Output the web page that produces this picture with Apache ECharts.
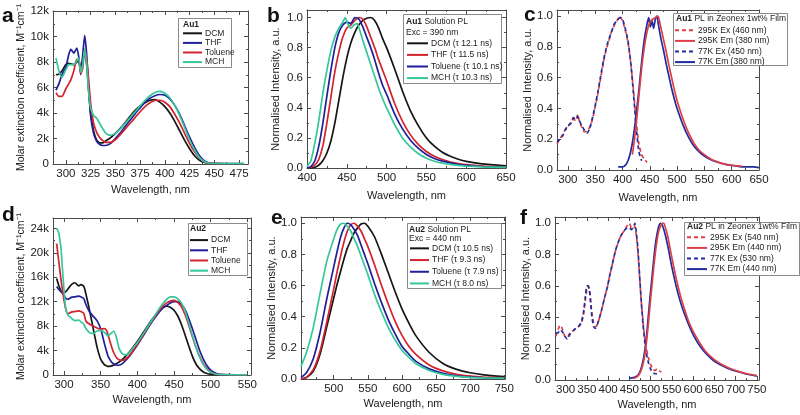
<!DOCTYPE html>
<html><head><meta charset="utf-8">
<script src="https://cdn.jsdelivr.net/npm/echarts@6/dist/echarts.min.js"></script>
<style>html,body{margin:0;padding:0;background:#fff}#c{width:800px;height:415px}</style>
</head><body><div id="c"></div>
<script>
// ---------------- DATA ----------------
// Panel a: Au1 absorption (M-1 cm-1)
const aWl = [290,293,296,300,303,305,308,311,313,315,317,319,321,323,325,328,331,334,337,340,345,350,355,360,365,370,375,380,385,390,395,400,405,410,415,420,425,430,435,440,445,450,460,470,480];
const aDCM = [7000,7050,7300,7800,7900,7850,7800,8000,8100,7500,8200,8700,7800,5800,4000,2600,1900,1650,1650,1800,2050,2400,2800,3250,3750,4200,4550,4800,5000,5050,4850,4500,4000,3350,2600,1850,1200,650,300,120,50,30,20,20,20];
const aTHF = [5800,6300,7000,7600,8600,9000,8700,9100,8400,7000,8500,10100,8600,6000,3800,2400,1800,1550,1450,1450,1600,2000,2450,2950,3450,3950,4400,4850,5150,5350,5450,5400,5100,4600,3900,3000,2100,1300,650,250,80,40,30,30,30];
const aTol = [5600,5300,5300,5900,6300,6600,7300,8200,8200,7100,7500,9000,8200,6600,4800,3200,2500,2100,1850,1700,1700,1900,2300,2750,3200,3650,4100,4500,4800,4980,5000,4850,4500,3900,3200,2400,1600,950,450,150,50,30,20,20,20];
const aMCH = [8300,7300,6800,7400,7800,7800,7800,8100,8300,7200,7800,9000,7800,5600,4400,3800,3600,3200,2800,2450,2250,2400,2750,3200,3650,4100,4550,5000,5350,5600,5700,5550,5200,4600,3800,2850,1900,1100,500,180,60,40,30,30,30];
const aXTicks = [300,325,350,375,400,425,450,475];
const aYTicks = [0,2000,4000,6000,8000,10000,12000];

// Panel b: Au1 solution PL
const bWl = [400,405,410,415,420,425,430,435,440,445,450,455,460,465,470,475,480,485,490,495,500,510,520,530,540,550,560,570,580,590,600,620,650];
const bDCM = [0,0,0.005,0.02,0.05,0.1,0.18,0.3,0.45,0.6,0.73,0.83,0.9,0.95,0.98,0.995,1.0,0.98,0.93,0.86,0.8,0.66,0.51,0.38,0.28,0.2,0.145,0.105,0.078,0.058,0.044,0.027,0.015];
const bTHF = [0,0.005,0.02,0.06,0.15,0.3,0.47,0.64,0.77,0.87,0.93,0.95,0.98,1.0,0.99,0.94,0.87,0.8,0.72,0.65,0.58,0.43,0.31,0.22,0.155,0.11,0.078,0.056,0.04,0.03,0.022,0.013,0.007];
const bTol = [0,0.01,0.05,0.15,0.3,0.48,0.65,0.8,0.9,0.95,0.97,0.96,1.0,0.99,0.94,0.87,0.8,0.72,0.63,0.55,0.49,0.36,0.26,0.185,0.13,0.09,0.063,0.046,0.034,0.025,0.018,0.01,0.005];
const bMchWl = [400,405,410,415,420,425,430,435,440,445,448,451,455,459,463,466,470,475,480,485,490,495,500,510,520,530,540,550,560,570,580,590,600,620,650];
const bMCH = [0.01,0.05,0.17,0.32,0.5,0.65,0.78,0.87,0.93,0.97,1.0,0.96,0.93,0.95,0.96,0.92,0.85,0.77,0.69,0.61,0.53,0.46,0.4,0.29,0.2,0.14,0.095,0.065,0.045,0.032,0.024,0.018,0.013,0.008,0.004];
const bXTicks = [400,450,500,550,600,650];
const nYTicks = [0,0.2,0.4,0.6,0.8,1.0];

// Panel c: Au1 film
const cExWl = [280,285,290,295,300,305,310,315,318,320,325,330,335,340,345,350,355,360,365,370,375,380,385,390,395,400,405,410,415,420,425,430,435,440,445];
const c295Ex = [0.17,0.2,0.23,0.26,0.28,0.31,0.33,0.32,0.36,0.33,0.28,0.25,0.25,0.28,0.33,0.41,0.5,0.6,0.7,0.78,0.84,0.9,0.94,0.97,1.0,0.97,0.91,0.83,0.7,0.52,0.32,0.17,0.1,0.07,0.05];
const c77Ex = [0.18,0.2,0.22,0.26,0.29,0.3,0.34,0.33,0.35,0.33,0.29,0.26,0.24,0.27,0.34,0.42,0.51,0.61,0.71,0.79,0.85,0.9,0.95,0.97,0.99,0.98,0.92,0.84,0.7,0.5,0.28,0.12,0.06,null,null];
const c77EmWl = [392,400,405,410,415,420,425,430,435,440,445,448,451,454,457,460,463,466,470,475,480,485,490,495,500,510,520,530,540,550,560,570,580,590,600,610,620,630,640,650];
const c77Em = [0.02,0.02,0.03,0.06,0.12,0.22,0.36,0.52,0.7,0.85,0.95,0.99,0.93,0.97,0.92,0.98,1.0,0.94,0.86,0.78,0.69,0.61,0.53,0.46,0.4,0.3,0.22,0.16,0.12,0.09,0.07,0.055,0.045,0.035,0.03,0.025,0.02,0.02,0.02,0.015];
const c295EmWl = [418,422,426,430,435,440,445,450,455,460,465,470,475,480,485,490,495,500,510,520,530,540,550,560,570,580,590,600,610,620];
const c295Em = [0.1,0.2,0.33,0.48,0.66,0.8,0.9,0.96,0.98,0.99,1.0,0.93,0.85,0.77,0.68,0.6,0.52,0.45,0.34,0.25,0.18,0.13,0.1,0.075,0.058,0.045,0.037,0.031,0.027,0.024];
const cXTicks = [300,350,400,450,500,550,600,650];

// Panel d: Au2 absorption
const dWl = [290,293,296,299,302,305,310,315,320,323,327,330,335,340,345,350,355,358,360,365,368,372,375,380,385,390,400,410,420,430,435,440,445,450,455,460,465,470,475,480,485,490,495,500,505,510,520,535,550];
const dDCM = [15800,14600,13700,13400,13600,14000,14800,15100,14600,14800,14500,13200,10500,7500,4600,2600,1700,1500,1400,1500,1650,1900,2100,2600,3200,3900,5500,7300,9100,10600,11100,11250,11100,10600,9700,8300,6600,4800,3100,1800,1000,500,250,120,70,50,40,30,30];
const dTHF = [14500,14000,13600,13300,12600,12400,12700,12800,12900,12800,12500,11500,10300,9600,8900,7600,5200,3900,3100,2100,1800,1600,1600,1900,2500,3200,4900,6800,8700,10300,11000,11400,11800,12000,12000,11600,10700,9300,7600,5800,4000,2600,1500,800,400,150,50,30,30];
const dTol = [21500,18500,15500,13000,11000,10000,10300,10400,10500,10400,10100,8800,8300,8000,7700,7500,7600,7300,6600,4600,3600,2800,2500,2400,2700,3300,5000,7000,8900,10600,11300,11800,12100,12200,11900,11200,9900,8200,6300,4500,3000,1800,1000,500,200,80,40,30,30];
const dMCH = [24000,23200,20500,15500,11200,9900,9300,8900,9000,8700,8300,7600,6900,6800,7200,7300,7000,6600,6400,6900,7200,5900,4400,3400,3300,3800,5300,7100,9000,10900,11700,12400,12800,12800,12500,11800,10500,8600,6500,4500,2900,1700,900,450,200,80,40,30,30];
const dXTicks = [300,350,400,450,500,550];
const dYTicks = [0,4000,8000,12000,16000,20000,24000];

// Panel e: Au2 solution PL
const eWl = [452,460,470,480,490,500,505,510,515,520,525,530,535,540,545,550,560,570,580,590,600,610,620,640,660,680,700,720,750];
const eDCM = [0,0.01,0.05,0.16,0.34,0.52,0.61,0.69,0.77,0.84,0.89,0.94,0.97,0.995,1.0,0.98,0.91,0.8,0.68,0.56,0.45,0.36,0.28,0.17,0.1,0.062,0.04,0.027,0.016];
const eTHF = [0,0.01,0.06,0.18,0.37,0.58,0.69,0.79,0.88,0.95,0.99,1.0,0.98,0.95,0.9,0.85,0.73,0.6,0.48,0.37,0.28,0.21,0.16,0.09,0.052,0.03,0.018,0.012,0.008];
const eTol = [0.01,0.04,0.13,0.3,0.52,0.72,0.82,0.91,0.97,1.0,0.99,0.96,0.92,0.86,0.8,0.74,0.61,0.49,0.38,0.29,0.21,0.16,0.115,0.065,0.036,0.02,0.012,0.008,0.005];
const eMCH = [0.08,0.17,0.33,0.55,0.76,0.9,0.96,0.995,1.0,0.98,0.95,0.9,0.85,0.79,0.73,0.67,0.54,0.43,0.33,0.25,0.185,0.14,0.1,0.055,0.03,0.017,0.01,0.007,0.005];
const eXTicks = [500,550,600,650,700,750];

// Panel f: Au2 film
const fExWl = [277,282,287,292,298,304,310,320,330,337,342,346,350,353,356,359,362,366,370,374,380,386,392,398,404,410,415,420,430,440,446,450,455,460,463,466,470,474,478,482,486,490,495,500,505,510,515,520,525];
const f295Ex = [0.28,0.32,0.35,0.33,0.28,0.27,0.3,0.32,0.34,0.36,0.42,0.5,0.58,0.6,0.58,0.5,0.42,0.36,0.34,0.35,0.4,0.46,0.53,0.59,0.67,0.74,0.8,0.85,0.92,0.96,0.99,1.0,0.97,0.97,0.98,0.93,0.82,0.66,0.5,0.38,0.27,0.2,0.14,0.1,0.07,0.06,0.07,0.06,0.05];
const f77Ex = [0.3,0.3,0.32,0.31,0.28,0.26,0.29,0.32,0.34,0.37,0.43,0.52,0.6,0.6,0.57,0.49,0.4,0.34,0.33,0.35,0.4,0.46,0.53,0.59,0.67,0.74,0.8,0.85,0.92,0.96,0.97,0.97,0.96,0.98,1.0,0.95,0.84,0.67,0.5,0.36,0.25,0.17,0.11,0.07,0.05,0.04,0.04,null,null];
const fEmWl = [450,460,470,476,482,487,491,495,499,503,507,511,515,519,523,527,531,535,540,545,550,560,570,580,590,600,615,630,650,670,690,710,730,750];
const f77Em = [0.01,0.015,0.03,0.06,0.12,0.2,0.3,0.42,0.54,0.65,0.76,0.86,0.93,0.98,1.0,0.99,0.96,0.92,0.86,0.79,0.72,0.6,0.5,0.42,0.35,0.29,0.22,0.17,0.12,0.09,0.065,0.05,0.035,0.025];
const f295Em = [null,0.01,0.025,0.05,0.1,0.17,0.26,0.37,0.49,0.6,0.71,0.81,0.89,0.95,0.98,1.0,1.0,0.97,0.92,0.85,0.78,0.65,0.54,0.45,0.37,0.31,0.24,0.18,0.13,0.095,0.07,0.052,0.038,0.028];
const fXTicks = [300,350,400,450,500,550,600,650,700,750];

// ---------------- STYLE ----------------
const FONT = '"Liberation Sans", Arial, Helvetica, sans-serif';
const TXT = '#222';
const AX = '#4a4a4a';
const C_BLK = '#151515', C_BLU = '#1f1f9a', C_RED = '#d2232e', C_TEAL = '#35c79b';
const F_RED = '#dc3f48', F_BLU = '#202c9c';
const LFS = 8.5;

const pairs = (xs, ys) => xs.map((x, i) => [x, ys[i]]);
const mids = (t) => { const r = []; const s = t[1] - t[0]; for (let i = 0; i < t.length; i++) r.push(+(t[i] - s / 2).toFixed(4)); r.push(+(t[t.length-1] + s / 2).toFixed(4)); return r; };
const kFmt = v => v === 0 ? '0' : (v / 1000) + 'k';
const nFmt = v => v.toFixed(1);

const grids = [
  {left: 53, top: 11, width: 195, height: 153},
  {left: 307, top: 10, width: 199, height: 158},
  {left: 557, top: 10, width: 202, height: 160},
  {left: 53, top: 218, width: 198, height: 157},
  {left: 301, top: 217, width: 204, height: 162},
  {left: 555, top: 217, width: 204, height: 163}
];

const MOLAR = 'Molar extinction coefficient, M\u207B\u00B9cm\u207B\u00B9';
const NORM = 'Normalised Intensity, a.u.';
const panels = [
  {x:[287,484], xt:aXTicks, y:[0,12000], yt:aYTicks, fmt:kFmt, yName:MOLAR, yGap:21, xGap:20, yFs:10.5},
  {x:[400,650], xt:bXTicks, y:[0,1.05], yt:nYTicks, fmt:nFmt, yName:NORM, yGap:26, xGap:22, yFs:11},
  {x:[280,650], xt:cXTicks, y:[0,1.04], yt:nYTicks, fmt:nFmt, yName:NORM, yGap:20, xGap:22, yFs:11},
  {x:[285,555], xt:dXTicks, y:[0,25700], yt:dYTicks, fmt:kFmt, yName:MOLAR, yGap:23, xGap:19, yFs:10.5},
  {x:[452,751], xt:eXTicks, y:[0,1.04], yt:nYTicks, fmt:nFmt, yName:NORM, yGap:20, xGap:19, yFs:11},
  {x:[275,755], xt:fXTicks, y:[0,1.04], yt:nYTicks, fmt:nFmt, yName:NORM, yGap:23, xGap:19, yFs:11}
];

const xAxes = [], yAxes = [];
function mk(gi, min, max, major, minor, pos, labels, fmt, name, gap, fs) {
  const common = {type:'value', gridIndex:gi, min, max, position:pos, splitLine:{show:false}, silent:true};
  const main = Object.assign({}, common, {
    axisLine:{show:true, onZero:false, lineStyle:{color:AX, width:1}},
    axisTick:{show:true, inside:true, length:4, customValues:major, lineStyle:{color:AX, width:1}},
    axisLabel:{show:labels, customValues:major, formatter:fmt, fontSize:11.5, fontFamily:FONT, color:TXT, margin:4}
  });
  if (labels && name) {
    main.name = name; main.nameLocation = 'middle'; main.nameGap = gap;
    main.nameTextStyle = {fontSize:fs || 11, fontFamily:FONT, color:TXT};
  }
  const mn = Object.assign({}, common, {
    axisLine:{show:false, onZero:false},
    axisTick:{show:true, inside:true, length:2, customValues:minor, lineStyle:{color:AX, width:1}},
    axisLabel:{show:false, customValues:minor}
  });
  return [main, mn];
}
panels.forEach((p, gi) => {
  const xm = mids(p.xt), ym = mids(p.yt);
  xAxes.push(...mk(gi, p.x[0], p.x[1], p.xt, xm, 'bottom', true, v => String(v), 'Wavelength, nm', p.xGap, 11));
  xAxes.push(...mk(gi, p.x[0], p.x[1], p.xt, xm, 'top', false));
  yAxes.push(...mk(gi, p.y[0], p.y[1], p.yt, ym, 'left', true, p.fmt, p.yName, p.yGap, p.yFs));
  yAxes.push(...mk(gi, p.y[0], p.y[1], p.yt, ym, 'right', false));
});

function ser(name, gi, xs, ys, color, dashed) {
  return {type:'line', name, xAxisIndex:gi*4, yAxisIndex:gi*4, data:pairs(xs, ys), symbol:'none',
    smooth:0.2, connectNulls:false, silent:true,
    lineStyle:{color, width:1.7, type: dashed ? [4,3] : 'solid'}, itemStyle:{color}, z:3};
}

const series = [
  ser('DCM', 0, aWl, aDCM, C_BLK), ser('THF', 0, aWl, aTHF, C_BLU), ser('Toluene', 0, aWl, aTol, C_RED), ser('MCH', 0, aWl, aMCH, C_TEAL),
  ser('DCM (\u03C4 12.1 ns)', 1, bWl, bDCM, C_BLK), ser('THF (\u03C4 11.5 ns)', 1, bWl, bTHF, C_RED), ser('Toluene (\u03C4 10.1 ns)', 1, bWl, bTol, C_BLU), ser('MCH (\u03C4 10.3 ns)', 1, bMchWl, bMCH, C_TEAL),
  ser('295K Ex (460 nm)', 2, cExWl, c295Ex, F_RED, true), ser('77K Ex (450 nm)', 2, cExWl, c77Ex, F_BLU, true),
  ser('77K Em (380 nm)', 2, c77EmWl, c77Em, F_BLU), ser('295K Em (380 nm)', 2, c295EmWl, c295Em, F_RED),
  ser('DCM', 3, dWl, dDCM, C_BLK), ser('THF', 3, dWl, dTHF, C_BLU), ser('Toluene', 3, dWl, dTol, C_RED), ser('MCH', 3, dWl, dMCH, C_TEAL),
  ser('DCM (\u03C4 10.5 ns)', 4, eWl, eDCM, C_BLK), ser('THF (\u03C4 9.3 ns)', 4, eWl, eTHF, C_RED), ser('Toluene (\u03C4 7.9 ns)', 4, eWl, eTol, C_BLU), ser('MCH (\u03C4 8.0 ns)', 4, eWl, eMCH, C_TEAL),
  ser('295K Ex (540 nm)', 5, fExWl, f295Ex, F_RED, true), ser('77K Ex (530 nm)', 5, fExWl, f77Ex, F_BLU, true),
  ser('77K Em (440 nm)', 5, fEmWl, f77Em, F_BLU), ser('295K Em (440 nm)', 5, fEmWl, f295Em, F_RED)
];

function leg(data, left, top, iw, lh) {
  return {data, left, top, orient:'vertical', itemWidth:iw, itemHeight:8, itemGap:0, padding:0,
    selectedMode:false, z:60,
    itemStyle:{opacity:0, borderWidth:0},
    lineStyle:{width:2},
    textStyle:{fontSize:LFS, fontFamily:FONT, color:TXT, lineHeight:lh, padding:[0,0,0,-2]}};
}
const legends = [
  leg(['DCM','THF','Toluene','MCH'], 182, 28.5, 19, 9.6),
  leg(['DCM (\u03C4 12.1 ns)','THF (\u03C4 11.5 ns)','Toluene (\u03C4 10.1 ns)','MCH (\u03C4 10.3 ns)'], 406, 37.5, 21, 11.6),
  leg(['295K Ex (460 nm)','295K Em (380 nm)','77K Ex (450 nm)','77K Em (380 nm)'], 674, 25, 20, 10.6),
  leg(['DCM','THF','Toluene','MCH'], 189, 235, 18, 10.2),
  leg(['DCM (\u03C4 10.5 ns)','THF (\u03C4 9.3 ns)','Toluene (\u03C4 7.9 ns)','MCH (\u03C4 8.0 ns)'], 409, 242.5, 19, 11.7),
  leg(['295K Ex (540 nm)','295K Em (440 nm)','77K Ex (530 nm)','77K Em (440 nm)'], 686, 232, 20, 10.6)
];

const boxes = [[178,18,53,49],[403,14,98,69],[673,13,114,52],[188,223,59,52],[407,223,94,65],[684,222,115,53]];
const headers = [
  [183, 25, '{b|Au1}'], [406, 21.7, '{b|Au1} Solution PL'], [406, 32.3, 'Exc = 390 nm'],
  [676, 18.5, '{b|Au1} PL in Zeonex 1wt% Film'],
  [190, 229, '{b|Au2}'], [409, 230, '{b|Au2} Solution PL'], [409, 239, 'Exc = 440 nm'],
  [687, 227, '{b|Au2} PL in Zeonex 1wt% Film']
];
const letters = [['a',2,16],['b',267,16],['c',524,15],['d',2,215],['e',271,218],['f',520,218]];

const graphic = [];
boxes.forEach(b => graphic.push({type:'rect', z:50, silent:true, shape:{x:b[0]+0.5, y:b[1]+0.5, width:b[2], height:b[3]}, style:{fill:'#fff', stroke:'#8a8a8a', lineWidth:1}}));
headers.forEach(h => graphic.push({type:'text', z:60, silent:true, x:h[0], y:h[1], style:{text:h[2], font:LFS + 'px ' + FONT, fill:TXT, verticalAlign:'middle', rich:{b:{fontWeight:'bold', fontSize:LFS, fontFamily:FONT, fill:TXT}}}}));
letters.forEach(l => graphic.push({type:'text', z:60, silent:true, x:l[1], y:l[2], style:{text:l[0], font:'bold 21px ' + FONT, fill:'#111', verticalAlign:'middle'}}));

const chart = echarts.init(document.getElementById('c'), null, {renderer:'canvas'});
chart.setOption({
  animation:false, backgroundColor:'#fff',
  grid: grids.map(g => Object.assign({containLabel:false}, g)),
  xAxis: xAxes, yAxis: yAxes, series, legend: legends, graphic
});
</script></body></html>
